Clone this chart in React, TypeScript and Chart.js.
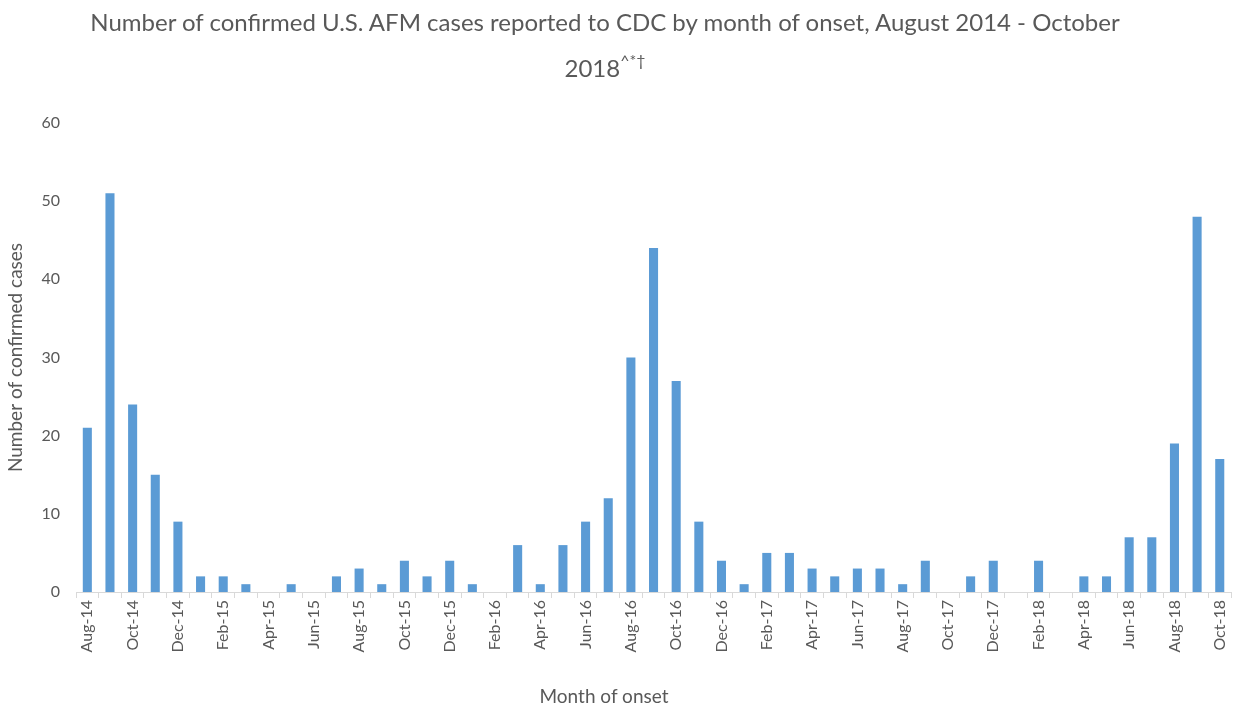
import React, { useEffect, useRef } from "react";
import { Chart, registerables } from "chart.js";

Chart.register(...registerables);

const months: string[] = [
  "Aug-14", "Sep-14", "Oct-14", "Nov-14", "Dec-14",
  "Jan-15", "Feb-15", "Mar-15", "Apr-15", "May-15", "Jun-15", "Jul-15", "Aug-15", "Sep-15", "Oct-15", "Nov-15", "Dec-15",
  "Jan-16", "Feb-16", "Mar-16", "Apr-16", "May-16", "Jun-16", "Jul-16", "Aug-16", "Sep-16", "Oct-16", "Nov-16", "Dec-16",
  "Jan-17", "Feb-17", "Mar-17", "Apr-17", "May-17", "Jun-17", "Jul-17", "Aug-17", "Sep-17", "Oct-17", "Nov-17", "Dec-17",
  "Jan-18", "Feb-18", "Mar-18", "Apr-18", "May-18", "Jun-18", "Jul-18", "Aug-18", "Sep-18", "Oct-18",
];

const cases: number[] = [
  21, 51, 24, 15, 9,
  2, 2, 1, 0, 1, 0, 2, 3, 1, 4, 2, 4,
  1, 0, 6, 1, 6, 9, 12, 30, 44, 27, 9, 4,
  1, 5, 5, 3, 2, 3, 3, 1, 4, 0, 2, 4,
  0, 4, 0, 2, 2, 7, 7, 19, 48, 17,
];

const yTicks: number[] = [0, 10, 20, 30, 40, 50, 60];

const titleLine1 = "Number of confirmed U.S. AFM cases reported to CDC by month of onset, August 2014 - October";
const titleLine2 = "2018";
const titleSup = "^*†";
const yTitle = "Number of confirmed cases";
const xTitle = "Month of onset";

const FONT = "Lato, 'Open Sans', sans-serif";
const GREY = "#595959";

export default function App() {
  const ref = useRef<HTMLCanvasElement | null>(null);

  useEffect(() => {
    document.body.style.margin = "0";
    if (!ref.current) return;
    const chart = new Chart(ref.current, {
      type: "bar",
      data: {
        labels: months,
        datasets: [
          {
            label: "Confirmed cases",
            data: cases,
            backgroundColor: "#5B9BD5",
            borderWidth: 0,
            barPercentage: 0.4,
            categoryPercentage: 1.0,
          },
        ],
      },
      options: {
        responsive: false,
        animation: false,
        maintainAspectRatio: false,
        layout: { padding: { top: 123, right: 5, left: 4, bottom: 0 } },
        plugins: {
          legend: { display: false },
          title: { display: false },
          tooltip: { enabled: false },
        },
        scales: {
          x: {
            offset: true,
            grid: {
              display: true,
              offset: true,
              drawOnChartArea: false,
              drawTicks: true,
              tickLength: 6,
              color: "#d9d9d9",
            },
            border: { display: true, color: "#d9d9d9" },
            ticks: {
              autoSkip: false,
              minRotation: 90,
              maxRotation: 90,
              color: GREY,
              font: { family: FONT, size: 16 },
              padding: 2,
              callback: (_v: any, i: number) => (i % 2 === 0 ? months[i] : ""),
            },
            title: { display: false },
            afterFit: (scale: any) => {
              scale.height = 114;
            },
          },
          y: {
            min: 0,
            max: 60,
            afterBuildTicks: (scale: any) => {
              scale.ticks = yTicks.map((v) => ({ value: v }));
            },
            grid: { display: false, drawTicks: false },
            border: { display: false },
            ticks: {
              color: GREY,
              font: { family: FONT, size: 16 },
              padding: 16,
            },
            title: {
              display: true,
              text: yTitle,
              color: GREY,
              font: { family: FONT, size: 19 },
              padding: { top: 0, bottom: 4 },
            },
            afterFit: (scale: any) => {
              scale.width = 72;
            },
          },
        },
      },
    });
    return () => chart.destroy();
  }, []);

  return (
    <div style={{ position: "relative", width: 1241, height: 706, background: "#fff" }}>
      <div
        style={{
          position: "absolute",
          left: 0,
          width: 1210,
          top: -1,
          textAlign: "center",
          fontFamily: FONT,
          color: GREY,
          fontSize: 24,
          lineHeight: "46px",
        }}
      >
        <div>{titleLine1}</div>
        <div>
          {titleLine2}
          <sup style={{ fontSize: 16, verticalAlign: "top", lineHeight: "30px" }}>{titleSup}</sup>
        </div>
      </div>
      <canvas ref={ref} width={1241} height={706} style={{ display: "block" }} />
      <div
        style={{
          position: "absolute",
          left: 0,
          width: 1208,
          top: 685,
          textAlign: "center",
          fontFamily: FONT,
          color: GREY,
          fontSize: 19,
          lineHeight: "22px",
        }}
      >
        {xTitle}
      </div>
    </div>
  );
}
